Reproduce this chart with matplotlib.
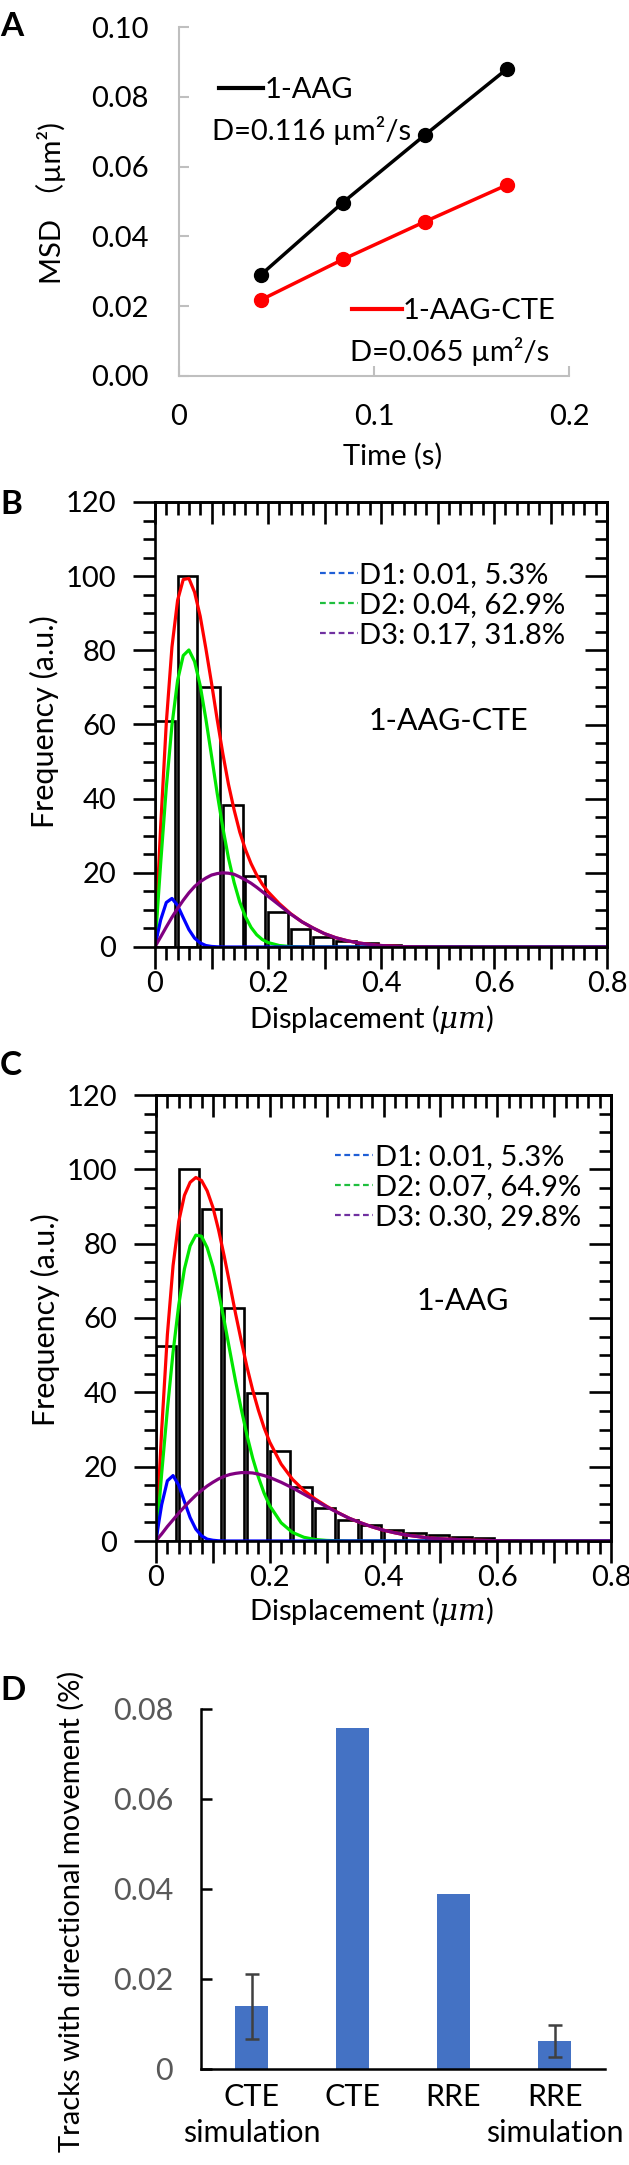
import numpy as np
import matplotlib
matplotlib.use('Agg')
import matplotlib.pyplot as plt
from matplotlib.ticker import MultipleLocator, FuncFormatter
from matplotlib.lines import Line2D

# panel A: MSD vs time lag
msd_time = [0.042, 0.084, 0.126, 0.168]
msd_aag = [0.029, 0.0497, 0.069, 0.0879]
msd_aag_cte = [0.0218, 0.0334, 0.0442, 0.0547]

# panels B / C: displacement histograms (bin left edges, heights)
hist_bins = [0.00, 0.04, 0.08, 0.12, 0.16, 0.20, 0.24, 0.28, 0.32, 0.36, 0.40, 0.44, 0.48, 0.52, 0.56, 0.60]
cte_counts = [61, 100, 70.2, 38.2, 19.2, 9.5, 4.8, 2.7, 1.5, 1.0, 0.6, 0.4, 0.25, 0.15]
aag_counts = [52.5, 100.2, 89.2, 62.7, 39.7, 24.2, 14.4, 8.9, 5.7, 4.2, 2.9, 2.2, 1.5, 1.0, 0.7, 0.4]

# fitted curves
fit_x = [0, 0.005, 0.01, 0.02, 0.03, 0.04, 0.05, 0.06, 0.07, 0.08,
         0.09, 0.10, 0.11, 0.12, 0.13, 0.14, 0.15, 0.16, 0.17, 0.18,
         0.19, 0.20, 0.22, 0.24, 0.26, 0.28, 0.30, 0.32, 0.34, 0.36,
         0.38, 0.40, 0.42, 0.44, 0.46, 0.48, 0.50, 0.55, 0.60, 0.65,
         0.70, 0.80]
cte_d1 = [0, 3.8, 7.3, 12.0, 13.1, 11.2, 7.9, 4.7, 2.4, 1.1, 0.4, 0.15, 0.05] + [0] * 29
cte_d2 = [0, 11.4, 22.5, 43.0, 59.8, 71.9, 78.6, 80.1, 77.0, 70.5,
          61.5, 51.6, 41.5, 32.2, 24.0, 17.4, 12.1, 8.2, 5.3, 3.3,
          2.0, 1.2, 0.4, 0.1] + [0] * 18
cte_d3 = [0, 1.4, 2.7, 5.4, 8.0, 10.4, 12.6, 14.6, 16.3, 17.6,
          18.6, 19.4, 19.8, 20.0, 19.9, 19.6, 18.9, 18.1, 17.2, 16.1,
          14.9, 13.7, 11.3, 8.9, 6.8, 5.1, 3.6, 2.5, 1.7, 1.1,
          0.7, 0.4, 0.25, 0.1, 0.07, 0.04, 0.02, 0, 0, 0,
          0, 0]
cte_sum = [0, 16.6, 32.5, 60.4, 80.9, 93.5, 99.1, 99.4, 95.7, 89.2,
           80.5, 71.2, 61.4, 52.2, 43.9, 37.0, 31.0, 26.3, 22.5, 19.4,
           16.9, 14.9, 11.7, 9.0, 6.8, 5.1, 3.6, 2.5, 1.7, 1.1,
           0.7, 0.4, 0.25, 0.1, 0.07, 0.04, 0.02, 0, 0, 0,
           0, 0]
aag_d1 = [0, 5.1, 9.8, 16.2, 17.6, 15.0, 10.6, 6.3, 3.2, 1.4, 0.5, 0.2, 0.05] + [0] * 29
aag_d2 = [0, 9.1, 18.2, 35.4, 50.8, 63.5, 73.2, 79.4, 82.3, 82.0,
          78.9, 73.8, 66.9, 59.2, 51.0, 42.9, 35.4, 28.4, 22.3, 17.2,
          12.9, 9.5, 4.9, 2.3, 1.0, 0.4, 0.15, 0.05] + [0] * 14
aag_d3 = [0, 1.0, 1.9, 3.9, 5.7, 7.5, 9.2, 10.8, 12.3, 13.6,
          14.8, 15.8, 16.7, 17.4, 17.9, 18.2, 18.4, 18.4, 18.3, 18.0,
          17.6, 17.1, 15.8, 14.3, 12.6, 10.9, 9.2, 7.6, 6.1, 4.9,
          3.8, 2.9, 2.2, 1.6, 1.2, 0.8, 0.6, 0.25, 0.08, 0.02,
          0, 0]
aag_sum = [0, 15.2, 29.9, 55.5, 74.1, 86.0, 93.0, 96.5, 97.8, 97.0,
           94.2, 89.8, 83.7, 76.6, 68.9, 61.1, 53.8, 46.8, 40.6, 35.2,
           30.5, 26.6, 20.7, 16.6, 13.6, 11.3, 9.35, 7.65, 6.1, 4.9,
           3.8, 2.9, 2.2, 1.6, 1.2, 0.8, 0.6, 0.25, 0.08, 0.02,
           0, 0]
cte_legend = ['D1: 0.01, 5.3%', 'D2: 0.04, 62.9%', 'D3: 0.17, 31.8%']
aag_legend = ['D1: 0.01, 5.3%', 'D2: 0.07, 64.9%', 'D3: 0.30, 29.8%']

# panel D
d_labels = ['CTE\nsimulation', 'CTE', 'RRE', 'RRE\nsimulation']
d_values = [0.0139, 0.0758, 0.0388, 0.0062]
d_err = [0.0072, 0, 0, 0.0035]

plt.rcParams['font.family'] = ['Lato', 'Noto Sans CJK SC', 'DejaVu Sans']
plt.rcParams['mathtext.fontset'] = 'dejavuserif'

W, H = 629, 2165
fig = plt.figure(figsize=(W / 100, H / 100), dpi=100)


def box(l, t, r, b):
    return [l / W, 1 - b / H, (r - l) / W, (b - t) / H]


def put(x, y, s, **kw):
    fig.text(x / W, 1 - y / H, s, ha='center', va='center', **kw)


FS = 21

# ---------------- A ----------------
axA = fig.add_axes(box(179, 27, 569, 376))
axA.plot(msd_time, msd_aag, '-o', color='black', lw=2.5, ms=10, clip_on=False)
axA.plot(msd_time, msd_aag_cte, '-o', color='red', lw=2.5, ms=10, clip_on=False)
axA.set_xlim(0, 0.2)
axA.set_ylim(0, 0.1)
axA.set_xticks([0, 0.1, 0.2])
axA.set_xticklabels(['0', '0.1', '0.2'])
yt = [0, 0.02, 0.04, 0.06, 0.08, 0.10]
axA.set_yticks(yt)
axA.set_yticklabels(['%.2f' % v for v in yt])
for s in ['top', 'right']:
    axA.spines[s].set_visible(False)
for s in ['left', 'bottom']:
    axA.spines[s].set_color('#bfbfbf')
    axA.spines[s].set_linewidth(1.5)
axA.tick_params(direction='in', length=7, width=1.5, color='#bfbfbf', labelsize=FS)
axA.tick_params(axis='x', pad=20)
axA.tick_params(axis='y', pad=22)

leg1 = axA.legend([Line2D([], [], color='black', lw=3)], ['1-AAG'], loc='center left',
                  bbox_to_anchor=(0.103, 0.819), frameon=False, fontsize=FS,
                  handlelength=1.5, handletextpad=0.05, borderpad=0, borderaxespad=0)
axA.add_artist(leg1)
axA.legend([Line2D([], [], color='red', lw=3)], ['1-AAG-CTE'], loc='center left',
           bbox_to_anchor=(0.4435, 0.186), frameon=False, fontsize=FS,
           handlelength=1.7, handletextpad=0.05, borderpad=0, borderaxespad=0)
axA.text(0.0855, 0.703, 'D=0.116 µm²/s', transform=axA.transAxes, va='center', fontsize=FS)
axA.text(0.438, 0.071, 'D=0.065 µm²/s', transform=axA.transAxes, va='center', fontsize=FS)

put(51, 203, 'MSD （µm²)', rotation=90, fontsize=FS)
put(393, 456, 'Time (s)', fontsize=FS)
fig.text(0.0, 1 - 27 / H, 'A', fontsize=24, fontweight='bold', va='center')


# ---------------- B / C ----------------
def hist_panel(rect, counts, d1, d2, d3, total, labels, name, name_xy, leg_xy):
    ax = fig.add_axes(box(*rect))
    ax.bar(hist_bins[:len(counts)], counts, width=0.035, align='edge',
           facecolor='white', edgecolor='black', lw=1.9)
    ax.plot(fit_x, total, color='red', lw=2.3)
    ax.plot(fit_x, d2, color='#00e600', lw=2.3)
    ax.plot(fit_x, d1, color='blue', lw=2.3)
    ax.plot(fit_x, d3, color='purple', lw=2.3)
    ax.set_xlim(0, 0.8)
    ax.set_ylim(0, 120)
    ax.xaxis.set_major_locator(MultipleLocator(0.1))
    ax.xaxis.set_minor_locator(MultipleLocator(0.02))
    ax.xaxis.set_major_formatter(FuncFormatter(lambda v, p: '' if round(v * 10) % 2 else '%g' % round(v, 2)))
    ax.yaxis.set_major_locator(MultipleLocator(20))
    ax.yaxis.set_minor_locator(MultipleLocator(5))
    for s in ax.spines.values():
        s.set_linewidth(1.9)
    ax.tick_params(which='both', direction='out', width=1.9, labelsize=FS)
    ax.tick_params(which='major', length=16)
    ax.tick_params(which='minor', length=9)
    ax.tick_params(axis='x', pad=1)
    ax.tick_params(axis='y', pad=12)
    top = ax.secondary_xaxis('top')
    top.xaxis.set_major_locator(MultipleLocator(0.1))
    top.xaxis.set_minor_locator(MultipleLocator(0.02))
    right = ax.secondary_yaxis('right')
    right.yaxis.set_major_locator(MultipleLocator(20))
    right.yaxis.set_minor_locator(MultipleLocator(5))
    for sec in (top, right):
        sec.tick_params(which='both', direction='in', width=1.9, labeltop=False, labelright=False)
        sec.tick_params(which='major', length=16)
        sec.tick_params(which='minor', length=9)
        for s in sec.spines.values():
            s.set_linewidth(1.9)
    handles = [Line2D([], [], color=c, lw=1.6, ls=(0, (2.6, 1.6)))
               for c in ['#1f5fd6', '#1fbf3f', '#7030a0']]
    ax.legend(handles, labels, loc='center left', bbox_to_anchor=leg_xy, frameon=False,
              fontsize=FS, handlelength=1.3, handletextpad=0.05, labelspacing=0.14,
              borderpad=0, borderaxespad=0)
    ax.text(name_xy[0], name_xy[1], name, ha='center', va='center', fontsize=FS + 1)
    return ax


hist_panel((155, 502, 607, 947), cte_counts, cte_d1, cte_d2, cte_d3, cte_sum,
           cte_legend, '1-AAG-CTE', (0.52, 61), (0.365, 0.769))
put(44, 722, 'Frequency (a.u.)', rotation=90, fontsize=FS + 1)
put(372, 1020, r'Displacement ($\mu m$)', fontsize=FS)
fig.text(0.0, 1 - 505 / H, 'B', fontsize=24, fontweight='bold', va='center')

hist_panel((156, 1095, 611, 1541), aag_counts, aag_d1, aag_d2, aag_d3, aag_sum,
           aag_legend, '1-AAG', (0.54, 64.7), (0.394, 0.793))
put(45, 1320, 'Frequency (a.u.)', rotation=90, fontsize=FS + 1)
put(372, 1611, r'Displacement ($\mu m$)', fontsize=FS)
fig.text(0.0, 1 - 1065 / H, 'C', fontsize=24, fontweight='bold', va='center')

# ---------------- D ----------------
axD = fig.add_axes(box(201, 1709, 605, 2069))
xs = np.arange(len(d_values))
axD.bar(xs, d_values, width=0.32, color='#4472c4')
idx = [i for i, e in enumerate(d_err) if e]
axD.errorbar(xs[idx], [d_values[i] for i in idx], yerr=[d_err[i] for i in idx],
             fmt='none', ecolor='#404040', elinewidth=1.8, capsize=5, capthick=1.8)
axD.set_xlim(-0.5, 3.5)
axD.set_ylim(0, 0.08)
ytd = [0, 0.02, 0.04, 0.06, 0.08]
axD.set_yticks(ytd)
axD.set_yticklabels(['%g' % v for v in ytd], color='#595959')
axD.set_xticks(xs)
axD.set_xticklabels(d_labels, linespacing=1.35)
for s in ['top', 'right']:
    axD.spines[s].set_visible(False)
for s in ['left', 'bottom']:
    axD.spines[s].set_linewidth(1.8)
axD.tick_params(axis='y', direction='in', length=8, width=1.8, labelsize=FS + 1, pad=20)
axD.tick_params(axis='x', length=0, labelsize=FS + 1, pad=10)
put(71, 1911, 'Tracks with directional movement (%)', rotation=90, fontsize=FS)
fig.text(0.0, 1 - 1691 / H, 'D', fontsize=24, fontweight='bold', va='center')

fig.savefig('out.png', dpi=100)
